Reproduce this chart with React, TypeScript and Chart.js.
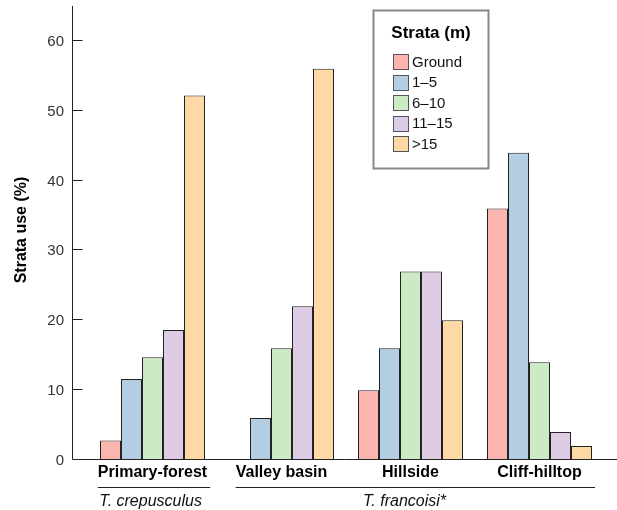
import React, { useEffect, useRef } from 'react';
import { Chart, registerables } from 'chart.js';

Chart.register(...registerables);

// ---- data ----
const categories = ['Primary-forest', 'Valley basin', 'Hillside', 'Cliff-hilltop'];
const strataLabels = ['Ground', '1–5', '6–10', '11–15', '>15'];
const groundValues = [2.8, 0, 10, 36];
const strata1to5 = [11.6, 6, 16, 44];
const strata6to10 = [14.7, 16, 27, 14];
const strata11to15 = [18.6, 22, 27, 4];
const strataOver15 = [52.2, 56, 20, 2];
const yTicks = [0, 10, 20, 30, 40, 50, 60];
const speciesNames = ['T. crepusculus', 'T. francoisi*'];
const speciesFrom = [0, 1];
const speciesTo = [0, 3];

const barColors = ['#FBB4AE', '#B3CDE3', '#CCEBC5', '#DECBE4', '#FED9A6'];
const seriesValues = [groundValues, strata1to5, strata6to10, strata11to15, strataOver15];

const FONT = '"Liberation Sans", Arial, sans-serif';

const decorPlugin = {
  id: 'decor',
  afterDatasetsDraw(chart: any) {
    const { ctx, scales } = chart;
    const xs = scales.x;
    const ys = scales.y;
    const axisX = 72.5;
    const baseY = Math.round(ys.getPixelForValue(0)) - 0.5;
    const topY = ys.getPixelForValue(65);
    ctx.save();
    ctx.strokeStyle = '#222';
    ctx.lineWidth = 1;
    // y axis line
    ctx.beginPath();
    ctx.moveTo(axisX, topY);
    ctx.lineTo(axisX, baseY);
    ctx.stroke();
    // x axis line
    ctx.beginPath();
    ctx.moveTo(axisX, baseY);
    ctx.lineTo(chart.width, baseY);
    ctx.stroke();
    // y ticks & labels
    ctx.font = `15px ${FONT}`;
    ctx.fillStyle = '#333';
    ctx.textAlign = 'right';
    ctx.textBaseline = 'middle';
    yTicks.forEach((v) => {
      const py = Math.round(ys.getPixelForValue(v)) - 0.5;
      if (v > 0) {
        ctx.beginPath();
        ctx.moveTo(axisX, py);
        ctx.lineTo(axisX + 10, py);
        ctx.stroke();
      }
      ctx.fillText(String(v), 64, py + 1);
    });
    // y title
    ctx.save();
    ctx.translate(22, 230);
    ctx.rotate(-Math.PI / 2);
    ctx.font = `bold 16px ${FONT}`;
    ctx.fillStyle = '#000';
    ctx.textAlign = 'center';
    ctx.textBaseline = 'middle';
    ctx.fillText('Strata use (%)', 0, 0);
    ctx.restore();

    // category labels
    ctx.font = `bold 16px ${FONT}`;
    ctx.fillStyle = '#000';
    ctx.textAlign = 'center';
    ctx.textBaseline = 'alphabetic';
    const labelLeft: number[] = [];
    const labelRight: number[] = [];
    categories.forEach((c, i) => {
      const cx = xs.getPixelForValue(i);
      const w = ctx.measureText(c).width;
      labelLeft.push(cx - w / 2);
      labelRight.push(cx + w / 2);
      ctx.fillText(c, cx, 477);
    });

    // species groups
    const halfGroup = (xs.width / categories.length) * 0.814 / 2;
    speciesNames.forEach((name, g) => {
      const a = speciesFrom[g];
      const b = speciesTo[g];
      const start = labelLeft[a];
      const end = Math.max(labelRight[b], xs.getPixelForValue(b) + halfGroup) + 3;
      ctx.strokeStyle = '#222';
      ctx.lineWidth = 1;
      ctx.beginPath();
      ctx.moveTo(start, 487.5);
      ctx.lineTo(end, 487.5);
      ctx.stroke();
      ctx.font = `italic 16px ${FONT}`;
      ctx.fillStyle = '#111';
      ctx.textAlign = 'center';
      ctx.fillText(name, start + (end - start) * 0.47, 506);
    });

    // legend
    const lx = 373.5, ly = 10.5, lw = 115, lh = 158;
    ctx.fillStyle = '#fff';
    ctx.fillRect(lx, ly, lw, lh);
    ctx.strokeStyle = '#888';
    ctx.lineWidth = 2;
    ctx.strokeRect(lx, ly, lw, lh);
    ctx.font = `bold 17px ${FONT}`;
    ctx.fillStyle = '#000';
    ctx.textAlign = 'center';
    ctx.textBaseline = 'middle';
    ctx.fillText('Strata (m)', lx + lw / 2, 33);
    ctx.font = `15px ${FONT}`;
    ctx.textAlign = 'left';
    chart.data.datasets.forEach((ds: any, i: number) => {
      const cy = 61.5 + i * 20.5;
      ctx.fillStyle = ds.backgroundColor;
      ctx.fillRect(393.5, Math.round(cy - 7.5) + 0.5, 15, 15);
      ctx.strokeStyle = '#555';
      ctx.lineWidth = 1;
      ctx.strokeRect(393.5, Math.round(cy - 7.5) + 0.5, 15, 15);
      ctx.fillStyle = '#111';
      ctx.fillText(ds.label, 412, cy + 1);
    });
    ctx.restore();
  },
};

export default function App() {
  const ref = useRef<HTMLCanvasElement | null>(null);
  useEffect(() => {
    if (!ref.current) return;
    const chart = new Chart(ref.current, {
      type: 'bar',
      data: {
        labels: categories,
        datasets: strataLabels.map((s, i) => ({
          label: s,
          data: seriesValues[i],
          backgroundColor: barColors[i],
          borderColor: '#222',
          borderWidth: 1,
          borderSkipped: 'bottom' as const,
          barPercentage: 1,
          categoryPercentage: 0.814,
        })),
      },
      options: {
        responsive: false,
        animation: false,
        layout: { padding: { left: 88, right: 13, top: 6, bottom: 50 } },
        plugins: { legend: { display: false }, tooltip: { enabled: false } },
        scales: {
          x: { display: false },
          y: { display: false, min: 0, max: 65 },
        },
      },
      plugins: [decorPlugin],
    });
    return () => chart.destroy();
  }, []);
  return (
    <div style={{ position: 'fixed', left: 0, top: 0, width: 617, height: 510, background: '#fff' }}>
      <canvas ref={ref} width={617} height={510} style={{ display: 'block' }} />
    </div>
  );
}
